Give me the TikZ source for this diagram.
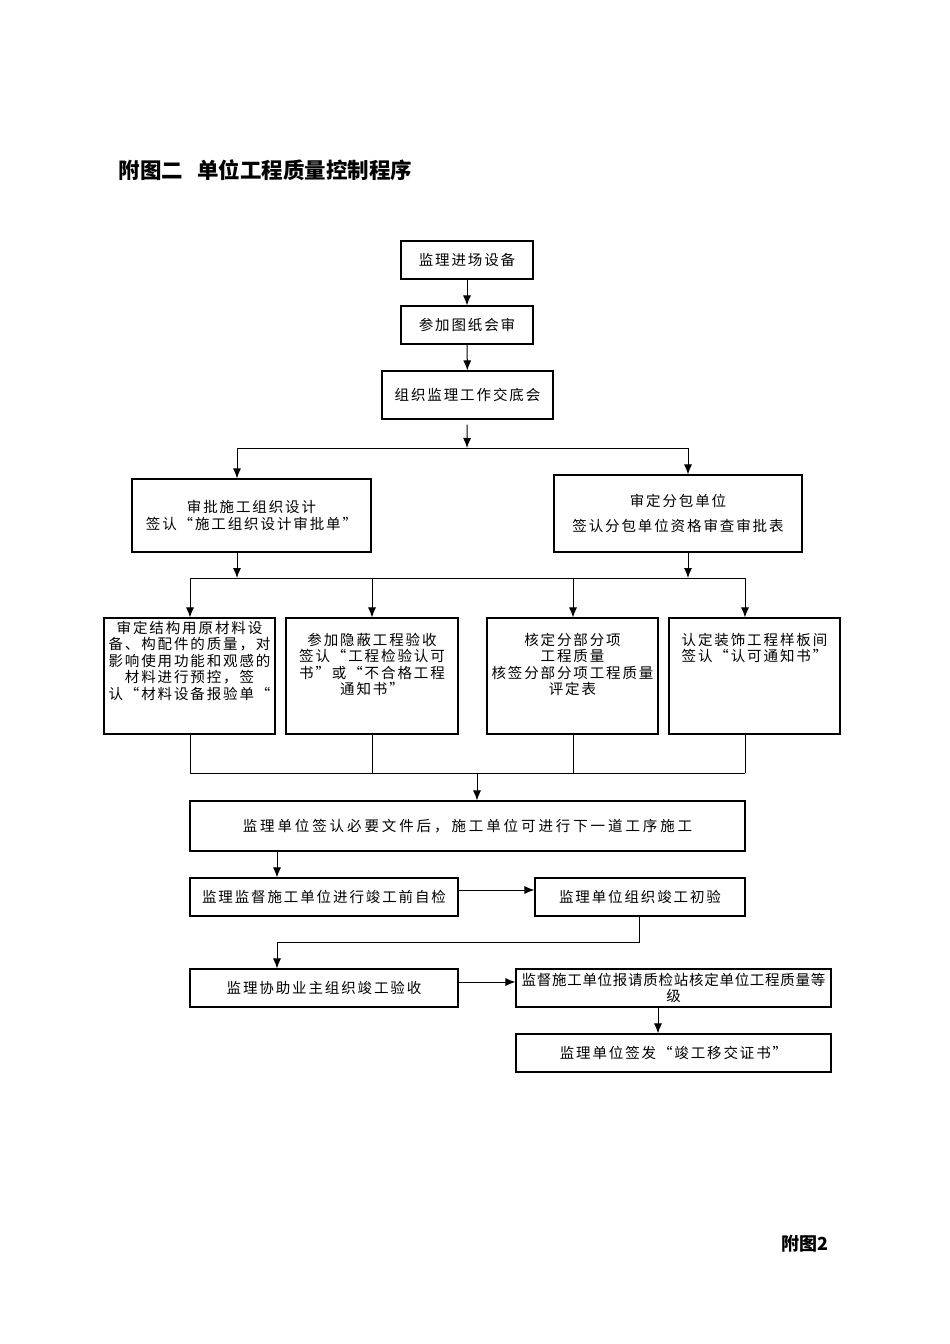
\documentclass[tikz,border=0pt]{standalone}
\usepackage{fontspec}
\setmainfont{Noto Sans CJK SC}
\newfontfamily\cjk[LetterSpace=13]{Noto Sans CJK SC}
\newfontfamily\cjktight[LetterSpace=5]{Noto Sans CJK SC}
\newfontfamily\cjkwide[LetterSpace=20]{Noto Sans CJK SC}
\usetikzlibrary{positioning,arrows.meta}

\begin{document}
\begin{tikzpicture}[
		x=1pt,y=-1pt,
		box/.style={draw,line width=1.1pt,inner sep=0pt,align=center,
			font=\cjk\fontsize{14.5}{16.5}\selectfont},
		arr/.style={-{Latex[length=10pt,width=8pt]},line width=1pt},
		ln/.style={line width=1pt}
		]
		\useasboundingbox (0,0) rectangle (950,1344);
		\node[anchor=west,font=\bfseries\fontsize{21.5}{21.5}\selectfont] (title) at (115,170)
		{附图二\hspace{14pt}单位工程质量控制程序};
		\node[box,minimum width=132pt,minimum height=38pt] (b1) at (467,260) {监理进场设备};
		\node[box,minimum width=132pt,minimum height=38pt] (b2) at (467,325) {参加图纸会审};
		\node[box,minimum width=171pt,minimum height=48pt] (b3) at (467.5,395) {组织监理工作交底会};
		\node[box,minimum width=239pt,minimum height=73pt] (b4) at (251.5,515.5)
		{审批施工组织设计\\签认“施工组织设计审批单”};
		\node[box,minimum width=248pt,minimum height=77pt] (b5) at (678,513.5)
		{审定分包单位\\[8pt]签认分包单位资格审查审批表};
		\node[box] (mA) at (189.5,676) {\parbox[c][116pt][t]{171pt}{\centering\vspace*{3pt}
				审定结构用原材料设\\备、构配件的质量，对\\影响使用功能和观感的\\材料进行预控，签\\认“材料设备报验单“}};
		\node[box] (mB) at (372,676) {\parbox[c][116pt][t]{172pt}{\centering\vspace*{15pt}
				参加隐蔽工程验收\\签认“工程检验认可\\书”或“不合格工程\\通知书”}};
		\node[box] (mC) at (572.5,676) {\parbox[c][116pt][t]{171pt}{\centering\vspace*{15pt}
				核定分部分项\\工程质量\\核签分部分项工程质量\\评定表}};
		\node[box] (mD) at (754.5,676) {\parbox[c][116pt][t]{171pt}{\centering\vspace*{15pt}
				认定装饰工程样板间\\签认“认可通知书”}};
		\node[box,minimum width=555pt,minimum height=50pt,font=\cjkwide\fontsize{14.5}{16.5}\selectfont] (mE) at (467.5,826)
		{监理单位签认必要文件后，施工单位可进行下一道工序施工};
		\node[box,minimum width=268pt,minimum height=38pt] (mF) at (324,897) {监理监督施工单位进行竣工前自检};
		\node[box,minimum width=210pt,minimum height=38pt] (mG) at (640,897) {监理单位组织竣工初验};
		\node[box,minimum width=268pt,minimum height=38pt] (mH) at (324,988) {监理协助业主组织竣工验收};
		\node[box,minimum width=315pt,minimum height=38pt,font=\cjktight\fontsize{14.5}{16}\selectfont] (mI) at (673.5,988)
		{监督施工单位报请质检站核定单位工程质量等\\级};
		\node[box,minimum width=315pt,minimum height=38pt] (mJ) at (673.5,1053) {监理单位签发“竣工移交证书”};
		\node[font=\bfseries\fontsize{18}{18}\selectfont] (fig) at (805,1244) {附图2};
		\draw[arr] (b1) -- (b2);
		\draw[arr] (b2) -- (b3);
		\coordinate (s1) at (467,448);
		\coordinate (s1l) at (237,448);
		\coordinate (s1r) at (688,448);
		\draw[arr,shorten <=5pt] (b3) -- (s1);
		\draw[ln] (s1l) -- (s1r);
		\draw[arr] (s1l) -- (s1l |- b4.north);
		\draw[arr] (s1r) -- (s1r |- b5.north);
		\coordinate (s2l) at (237,578);
		\coordinate (s2r) at (688,578);
		\draw[arr] (s2l |- b4.south) -- (s2l);
		\draw[arr] (s2r |- b5.south) -- (s2r);
		\foreach \n/\x in {A/190,B/372,C/573,D/745}{
			\coordinate (c\n) at (\x,578);
			\coordinate (d\n) at (\x,773);
			\draw[arr] (c\n) -- (c\n |- m\n.north);
			\draw[ln] (c\n |- m\n.south) -- (d\n);
		}
		\draw[ln] (cA) -- (cD);
		\draw[ln] (dA) -- (dD);
		\coordinate (s3) at (477,773);
		\draw[arr] (s3) -- (s3 |- mE.north);
		\coordinate (s4) at (277,0);
		\draw[arr] (s4 |- mE.south) -- (s4 |- mF.north);
		\draw[arr] ([yshift=7pt]mF.east) -- ([yshift=7pt]mF.east -| mG.west);
		\coordinate (t1) at (639,942);
		\coordinate (t2) at (277,942);
		\draw[arr] (t1 |- mG.south) -- (t1) -- (t2) -- (t2 |- mH.north);
		\draw[arr] ([yshift=6pt]mH.east) -- ([yshift=6pt]mH.east -| mI.west);
		\coordinate (t3) at (658,0);
		\draw[arr] (t3 |- mI.south) -- (t3 |- mJ.north);
	\end{tikzpicture}
\end{document}
